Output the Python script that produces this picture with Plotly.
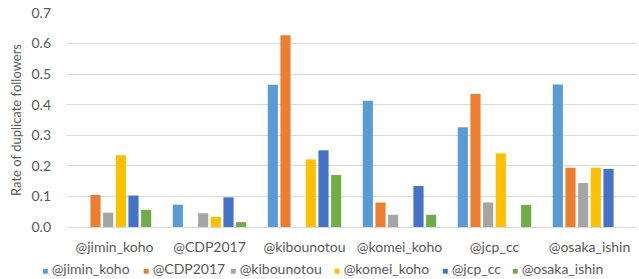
import plotly.graph_objects as go

categories = ["@jimin_koho", "@CDP2017", "@kibounotou", "@komei_koho", "@jcp_cc", "@osaka_ishin"]
series_names = ["@jimin_koho", "@CDP2017", "@kibounotou", "@komei_koho", "@jcp_cc", "@osaka_ishin"]
colors = ["#5B9BD5", "#ED7D31", "#A5A5A5", "#FFC000", "#4472C4", "#70AD47"]

jimin_koho = [None, 0.073, 0.465, 0.413, 0.326, 0.466]
cdp2017 = [0.105, None, 0.627, 0.080, 0.435, 0.194]
kibounotou = [0.047, 0.045, None, 0.040, 0.080, 0.144]
komei_koho = [0.235, 0.033, 0.221, None, 0.241, 0.194]
jcp_cc = [0.103, 0.097, 0.251, 0.134, None, 0.190]
osaka_ishin = [0.056, 0.016, 0.170, 0.040, 0.072, None]

series_values = [jimin_koho, cdp2017, kibounotou, komei_koho, jcp_cc, osaka_ishin]

W, H = 639, 279
ML, MR, MT, MB = 67, 2, 13, 52
FONT = "Lato, Calibri, sans-serif"
FS = 14
TXT = "#595959"

fig = go.Figure()
for name, vals, col in zip(series_names, series_values, colors):
    fig.add_trace(go.Bar(name=name, x=categories, y=vals, marker_color=col,
                         marker_line_width=0, showlegend=False))

# legend drawn as text entries (square glyph + name) below the axis
legend_px = [40, 141, 228, 332, 440, 510]
annotations = []
for name, col, px in zip(series_names, colors, legend_px):
    annotations.append(dict(
        text=f"<span style='color:{col};font-size:10px'>■</span> {name}",
        x=(px - ML) / (W - ML - MR), xref="paper", xanchor="left",
        y=-(268 - (H - MB)) / (H - MT - MB), yref="paper", yanchor="middle",
        showarrow=False, font=dict(family=FONT, size=FS, color=TXT)))

fig.update_layout(
    width=W, height=H,
    margin=dict(l=ML, r=MR, t=MT, b=MB),
    paper_bgcolor="white", plot_bgcolor="white",
    barmode="group", bargap=0.2, bargroupgap=0.2,
    font=dict(family=FONT, size=FS, color=TXT),
    showlegend=False,
    annotations=annotations,
    xaxis=dict(showgrid=False, showline=True, linecolor="#D9D9D9", linewidth=1,
               tickfont=dict(family=FONT, size=FS, color=TXT), ticks="",
               ticklabelstandoff=7, automargin=False),
    yaxis=dict(range=[0, 0.7], dtick=0.1, tickformat=".1f", showgrid=True,
               gridcolor="#D9D9D9", gridwidth=1, zeroline=False,
               tickfont=dict(family=FONT, size=FS, color=TXT),
               ticks="", ticklabelstandoff=15, automargin=False,
               title=dict(text="Rate of duplicate followers",
                          font=dict(family=FONT, size=13, color=TXT), standoff=6)),
)

fig.write_html("out.html", config={"displayModeBar": False},
               post_script="document.body.style.margin='0';")
